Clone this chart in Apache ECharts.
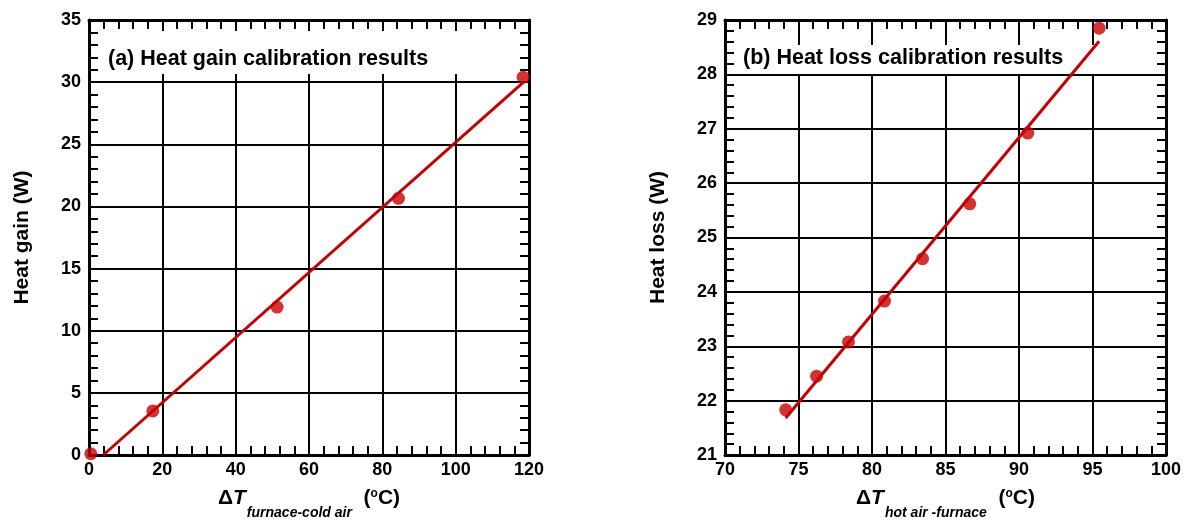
<!DOCTYPE html>
<html><head><meta charset="utf-8">
<script src="https://cdn.jsdelivr.net/npm/echarts@6/dist/echarts.min.js"></script>
<style>html,body{margin:0;padding:0;background:#fff}#c{width:1192px;height:525px}</style>
</head><body><div id="c"></div>
<script>
// ---- data ----
const gainDeltaT = [0.5, 17.4, 51.3, 84.4, 118.4];
const gainPower  = [0.1, 3.55, 11.9, 20.65, 30.4];
const gainFitX   = [3.9, 118.5];
const gainFitY   = [0.0, 30.0];

const lossDeltaT = [74.13, 76.23, 78.4, 80.85, 83.44, 86.65, 90.6, 95.45];
const lossPower  = [21.83, 22.45, 23.08, 23.83, 24.61, 25.62, 26.92, 28.85];
const lossFitX   = [74.13, 95.45];
const lossFitY   = [21.68, 28.61];

const gainXTicks = [0, 20, 40, 60, 80, 100, 120];
const gainYTicks = [0, 5, 10, 15, 20, 25, 30, 35];
const lossXTicks = [70, 75, 80, 85, 90, 95, 100];
const lossYTicks = [21, 22, 23, 24, 25, 26, 27, 28, 29];

const titleA = '(a) Heat gain calibration results';
const titleB = '(b) Heat loss calibration results';
const yNameA = 'Heat gain (W)';
const yNameB = 'Heat loss (W)';
const xSubA = 'furnace-cold air';
const xSubB = 'hot air -furnace';

// ---- styling ----
const FONT = "'Liberation Sans', Arial, Helvetica, sans-serif";
const RED = '#c80000';
const BLACK = '#000';

function pairs(xs, ys) { return xs.map((x, i) => [x, ys[i]]); }
function range(t) { return { min: t[0], max: t[t.length - 1], interval: t[1] - t[0] }; }

const xRich = {
  D: { fontFamily: FONT, fontSize: 21, fontWeight: 'bold', color: BLACK, lineHeight: 22, verticalAlign: 'top' },
  T: { fontFamily: FONT, fontSize: 21, fontWeight: 'bold', fontStyle: 'italic', color: BLACK, lineHeight: 22, verticalAlign: 'top' },
  s: { fontFamily: FONT, fontSize: 14, fontWeight: 'bold', fontStyle: 'italic', color: BLACK, lineHeight: 14, padding: [18, 0, 0, 1], verticalAlign: 'top' },
  u: { fontFamily: FONT, fontSize: 21, fontWeight: 'bold', color: BLACK, lineHeight: 22, verticalAlign: 'top' },
  o: { fontFamily: FONT, fontSize: 12, fontWeight: 'bold', color: BLACK, lineHeight: 12, verticalAlign: 'top' }
};
function xName(sub) { return '{D|Δ}{T|T}{s|' + sub + '}{u|  (}{o|o}{u|C)}'; }

const tickLine = { color: BLACK, width: 2 };
function mainX(grid, ticks, sub) {
  return Object.assign({
    type: 'value', gridIndex: grid, position: 'bottom',
    name: xName(sub), nameLocation: 'middle', nameGap: 33,
    nameTextStyle: { rich: xRich },
    axisLine: { show: true, onZero: false, lineStyle: { color: BLACK, width: 3 } },
    axisTick: { show: true, inside: true, length: 9, lineStyle: tickLine },
    minorTick: { show: true, splitNumber: 5, length: 9, lineStyle: tickLine },
    splitLine: { show: true, lineStyle: { color: BLACK, width: 2 } },
    axisLabel: { fontFamily: FONT, fontSize: 18, fontWeight: 'bold', color: BLACK, margin: 6 }
  }, range(ticks));
}
function topX(grid, ticks) {
  return Object.assign({
    type: 'value', gridIndex: grid, position: 'top',
    axisLine: { show: true, onZero: false, lineStyle: { color: BLACK, width: 3 } },
    axisTick: { show: true, inside: true, length: 9, lineStyle: tickLine },
    minorTick: { show: true, splitNumber: 5, length: 9, lineStyle: tickLine },
    splitLine: { show: false }, axisLabel: { show: false }
  }, range(ticks));
}
function mainY(grid, ticks, name) {
  return Object.assign({
    type: 'value', gridIndex: grid, position: 'left',
    name: name, nameLocation: 'middle', nameGap: 56,
    nameTextStyle: { fontFamily: FONT, fontSize: 21, fontWeight: 'bold', color: BLACK },
    axisLine: { show: true, onZero: false, lineStyle: { color: BLACK, width: 3 } },
    axisTick: { show: true, inside: true, length: 9, lineStyle: tickLine },
    minorTick: { show: true, splitNumber: 5, length: 9, lineStyle: tickLine },
    splitLine: { show: true, lineStyle: { color: BLACK, width: 2 } },
    axisLabel: { fontFamily: FONT, fontSize: 18, fontWeight: 'bold', color: BLACK, margin: 8 }
  }, range(ticks));
}
function rightY(grid, ticks) {
  return Object.assign({
    type: 'value', gridIndex: grid, position: 'right',
    axisLine: { show: true, onZero: false, lineStyle: { color: BLACK, width: 3 } },
    axisTick: { show: true, inside: true, length: 9, lineStyle: tickLine },
    minorTick: { show: true, splitNumber: 5, length: 9, lineStyle: tickLine },
    splitLine: { show: false }, axisLabel: { show: false }
  }, range(ticks));
}

const grids = [
  { left: 89, top: 20, width: 440, height: 443 },
  { left: 725, top: 20, width: 441, height: 443 }
];

function panelGraphics(g, title, boxTop, boxBottom, textX, textY) {
  return [
    { type: 'rect', z: 1, silent: true,
      shape: { x: g.left + 12, y: boxTop, width: g.width - 24, height: boxBottom - boxTop },
      style: { fill: '#fff' } },
    { type: 'text', z: 5, silent: true, x: textX, y: textY,
      style: { text: title, fill: BLACK, font: 'bold 21.5px ' + FONT, textVerticalAlign: 'middle', textAlign: 'left' } }
  ];
}

const option = {
  animation: false,
  backgroundColor: '#fff',
  grid: grids,
  xAxis: [mainX(0, gainXTicks, xSubA), topX(0, gainXTicks), mainX(1, lossXTicks, xSubB), topX(1, lossXTicks)],
  yAxis: [mainY(0, gainYTicks, yNameA), rightY(0, gainYTicks), mainY(1, lossYTicks, yNameB), rightY(1, lossYTicks)],
  graphic: [].concat(
    panelGraphics(grids[0], titleA, 31, 74, 108, 59),
    panelGraphics(grids[1], titleB, 45, 74, 743, 58)
  ),
  series: [
    { type: 'line', xAxisIndex: 0, yAxisIndex: 0, data: pairs(gainFitX, gainFitY), showSymbol: false, z: 3,
      lineStyle: { color: RED, width: 3 }, clip: false },
    { type: 'scatter', xAxisIndex: 0, yAxisIndex: 0, data: pairs(gainDeltaT, gainPower), symbolSize: 13, z: 4,
      itemStyle: { color: RED }, clip: false },
    { type: 'line', xAxisIndex: 2, yAxisIndex: 2, data: pairs(lossFitX, lossFitY), showSymbol: false, z: 3,
      lineStyle: { color: RED, width: 3 }, clip: false },
    { type: 'scatter', xAxisIndex: 2, yAxisIndex: 2, data: pairs(lossDeltaT, lossPower), symbolSize: 13, z: 4,
      itemStyle: { color: RED }, clip: false }
  ]
};

const chart = echarts.init(document.getElementById('c'), null, { renderer: 'canvas' });
chart.setOption(option);
</script>
</body></html>
